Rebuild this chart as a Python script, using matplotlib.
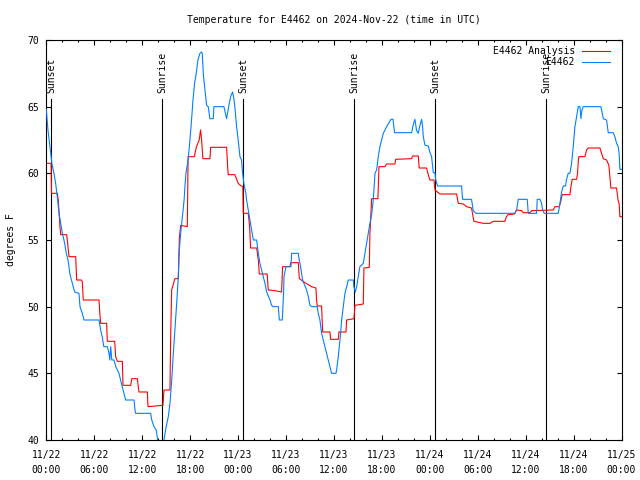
import pandas as pd
import matplotlib
matplotlib.use('Agg')
import matplotlib.pyplot as plt
import matplotlib.dates as mdates

plt.rcParams['font.family'] = 'DejaVu Sans Mono'
plt.rcParams['font.size'] = 7

start = pd.Timestamp('2024-11-22 00:00')
end = pd.Timestamp('2024-11-25 00:00')

# observed temperature (hours since 11/22 00:00 UTC, deg F)
obs_hours = [0.0, 0.2, 0.55, 0.7, 0.96, 1.17, 1.38, 1.59, 1.8, 2.01, 2.3, 2.5, 2.72, 2.97,
             3.26, 3.55, 4.09, 4.22, 4.5, 4.72, 6.6, 6.8, 7.0, 7.2, 7.64, 7.85, 7.95, 8.06,
             8.2, 8.47, 8.7, 9.1, 9.4, 9.72, 9.93, 10.98, 11.1, 11.18, 13.06, 13.2, 13.48,
             13.75, 13.94, 14.3, 14.73, 15.0, 15.27, 15.48, 15.7, 15.9, 16.1, 16.32, 16.5,
             16.65, 16.82, 17.07, 17.25, 17.36, 17.48, 17.75, 17.98, 18.15, 18.36, 18.56,
             18.77, 18.98, 19.23, 19.44, 19.52, 19.65, 19.86, 20.07, 20.27, 20.48, 20.9,
             20.98, 22.23, 22.57, 22.9, 23.07, 23.32, 23.48, 23.6, 23.82, 24.02, 24.24,
             24.44, 24.57, 24.73, 24.98, 25.07, 25.28, 25.49, 25.7, 25.91, 26.33, 26.54,
             26.74, 26.95, 27.16, 27.37, 27.58, 28.0, 28.2, 28.41, 29.04, 29.17, 29.54,
             29.62, 29.7, 29.75, 30.0, 30.62, 30.71, 31.54, 31.66, 31.83, 31.95, 32.08,
             32.58, 32.8, 33.0, 33.21, 33.92, 34.04, 34.25, 34.46, 34.67, 34.88, 35.1, 35.3,
             35.5, 35.71, 36.26, 36.34, 36.55, 36.76, 36.97, 37.17, 37.38, 37.6, 37.8,
             38.43, 38.5, 38.68, 38.85, 39.05, 39.25, 39.68, 39.89, 40.1, 40.3, 40.51,
             40.72, 40.93, 41.14, 41.35, 41.55, 41.76, 42.18, 42.6, 43.01, 43.14, 43.4,
             43.6, 45.73, 45.95, 46.14, 46.35, 46.56, 46.77, 46.98, 47.1, 47.19, 47.4,
             47.81, 48.0, 48.23, 48.44, 48.65, 48.75, 48.98, 51.98, 52.11, 53.23, 53.44,
             53.78, 58.66, 58.87, 59.08, 60.2, 60.33, 61.37, 61.45, 61.79, 62.0, 62.12,
             62.33, 64.08, 64.3, 64.5, 64.71, 65.0, 65.1, 65.33, 65.54, 65.75, 65.96,
             66.17, 66.38, 66.59, 66.8, 66.92, 67.05, 67.21, 69.42, 69.72, 70.13, 70.34,
             70.96, 71.17, 71.38, 71.59, 71.7, 71.8, 72.0]
obs_temp = [64.8, 63.3, 61.5, 60.75, 60.0, 59.25, 58.2, 57.0, 56.25, 55.5, 54.75, 54.0, 53.5, 52.4,
            51.75, 51.1, 51.0, 50.0, 49.5, 49.0, 49.0, 48.25, 47.75, 47.0, 47.0, 46.5, 46.0, 47.0,
            46.0, 46.0, 45.5, 45.0, 44.25, 43.5, 43.0, 43.0, 42.25, 42.0, 42.0, 41.5, 41.0,
            40.75, 40.0, 39.0, 40.0, 41.0, 41.75, 42.75, 44.5, 46.5, 48.25, 50.25, 52.0,
            54.25, 55.5, 57.0, 58.0, 59.1, 60.0, 61.0, 62.5, 63.75, 65.5, 66.75,
            67.5, 68.5, 69.0, 69.1, 69.0, 67.5, 66.25, 65.1, 65.0, 64.1, 64.1,
            65.0, 65.0, 64.1, 65.25, 65.75, 66.1, 65.6, 65.0, 63.5, 62.5, 61.25,
            61.0, 60.0, 59.25, 58.5, 58.0, 57.25, 56.5, 55.75, 55.0, 55.0, 54.0,
            53.25, 52.75, 52.25, 51.75, 51.1, 50.5, 50.1, 50.0, 50.0, 49.0, 49.0,
            50.0, 51.0, 52.25, 53.0, 53.0, 54.0, 54.0, 53.5, 53.0, 52.5, 52.0,
            51.25, 50.75, 50.1, 50.0, 50.0, 49.5, 49.0, 48.0, 47.5, 47.0, 46.5, 46.0,
            45.5, 45.0, 45.0, 45.25, 46.25, 47.5, 49.0, 50.0, 51.0, 51.5, 52.0,
            52.0, 51.5, 51.1, 51.5, 52.25, 53.0, 53.25, 54.0, 54.75, 55.5, 56.25,
            56.9, 58.0, 60.0, 60.25, 61.25, 62.0, 63.0, 63.5, 63.9, 64.05, 64.05,
            63.05, 63.05, 63.7, 64.05, 63.2, 63.0, 63.6, 64.05, 63.5, 62.75, 62.1,
            62.05, 61.6, 61.25, 60.05, 60.05, 59.5, 59.05, 59.05, 58.05, 58.05, 57.2,
            57.0, 57.0, 57.25, 58.05, 58.05, 57.0, 57.0, 58.05, 58.05, 57.75, 57.25,
            57.0, 57.0, 57.75, 58.6, 59.05, 59.05, 59.5, 60.0, 60.0, 60.75, 62.0,
            63.5, 64.25, 65.0, 65.0, 64.1, 64.75, 65.0, 65.0, 64.1, 64.0, 63.05,
            63.05, 62.75, 62.25, 62.0, 61.5, 60.3, 60.3]

# analysis temperature
ana_hours = [0.0, 0.6, 0.65, 1.38, 1.5, 1.6, 1.71, 1.8, 2.55, 2.63, 2.84, 3.68, 3.8, 4.38,
             4.5, 4.63, 6.6, 6.7, 6.8, 7.55, 7.64, 8.56, 8.68, 8.9, 9.52, 9.6, 10.56, 10.7,
             11.39, 11.6, 12.65, 12.73, 14.6, 14.73, 15.48, 15.56, 15.69, 16.1, 16.53,
             16.65, 16.82, 17.65, 17.75, 18.52, 18.8, 19.14, 19.31, 19.44, 19.6, 20.48,
             20.57, 22.57, 22.7, 22.77, 23.6, 23.8, 24.02, 24.3, 24.6, 24.65, 25.28, 25.45,
             25.57, 26.33, 26.54, 26.66, 27.65, 27.78, 28.62, 29.45, 29.58, 30.5, 30.6,
             31.54, 31.67, 32.38, 33.21, 33.75, 33.83, 33.92, 34.46, 34.59, 35.51, 35.59,
             36.55, 36.63, 37.51, 37.59, 38.51, 38.64, 39.68, 39.76, 40.43, 40.51, 40.6,
             40.72, 41.51, 41.64, 42.39, 42.6, 43.64, 43.73, 45.73, 45.85, 46.56, 46.68,
             47.6, 47.81, 48.02, 48.52, 48.65, 49.27, 51.36, 51.57, 52.2, 52.61, 53.23,
             53.52, 54.69, 55.53, 55.94, 57.4, 57.6, 57.82, 58.6, 58.87, 59.49, 59.7, 60.54,
             60.75, 63.46, 63.67, 64.21, 64.4, 64.58, 65.54, 65.67, 65.83, 66.38, 66.5,
             66.6, 66.67, 67.42, 67.63, 67.84, 69.3, 69.5, 69.72, 70.13, 70.42, 70.55,
             70.67, 71.38, 71.59, 71.7, 71.8, 72.0]
ana_temp = [60.75, 60.75, 58.5, 58.5, 58.0, 57.0, 56.0, 55.4, 55.4, 55.0, 53.75, 53.75, 52.0, 52.0,
            51.9, 50.5, 50.5, 49.5, 48.75, 48.75, 47.4, 47.4, 46.25, 45.9, 45.9, 44.1, 44.1, 44.6,
            44.6, 43.6, 43.6, 42.5, 42.6, 43.75, 43.75, 47.5, 51.25, 52.1, 52.1,
            55.1, 56.1, 56.0, 61.25, 61.25, 62.0, 62.5, 63.25, 62.5, 61.1, 61.1,
            61.95, 61.95, 60.5, 59.9, 59.9, 59.6, 59.25, 59.1, 59.0, 57.0, 57.0, 56.0,
            54.4, 54.4, 53.5, 52.45, 52.45, 51.25, 51.2, 51.1, 53.0, 53.0, 53.3,
            53.3, 52.1, 51.8, 51.5, 51.4, 50.5, 50.05, 50.05, 48.1, 48.1, 47.55,
            47.55, 48.1, 48.1, 49.0, 49.1, 50.1, 50.2, 52.9, 52.95, 55.5, 56.5,
            58.1, 58.1, 60.5, 60.5, 60.7, 60.7, 61.05, 61.1, 61.3, 61.3, 60.4,
            60.4, 59.9, 59.5, 59.5, 58.75, 58.45, 58.45, 57.75, 57.7, 57.5, 57.4,
            56.4, 56.25, 56.25, 56.4, 56.4, 56.75, 56.9, 56.95, 57.25, 57.2, 57.05, 57.05,
            57.2, 57.25, 57.5, 57.5, 57.9, 58.4, 58.4, 59.0, 59.55, 59.55, 60.0,
            61.0, 61.25, 61.25, 61.75, 61.9, 61.9, 61.5, 61.1, 61.0, 60.6, 59.75,
            58.9, 58.9, 57.9, 57.75, 56.75, 56.75]

sunset_hours = [0.63, 24.66, 48.69]
sunrise_hours = [14.52, 38.55, 62.58]

obs_t = start + pd.to_timedelta(obs_hours, unit='h')
ana_t = start + pd.to_timedelta(ana_hours, unit='h')

fig = plt.figure(figsize=(6.4, 4.8), dpi=100)
ax = fig.add_axes([46.3 / 640, 40 / 480, 575.2 / 640, 400 / 480])

# sunrise / sunset markers
for name, hrs in [('Sunset', sunset_hours), ('Sunrise', sunrise_hours)]:
    for h in hrs:
        t = start + pd.Timedelta(hours=h)
        ax.plot([t, t], [40, 65.55], color='black', lw=0.8, zorder=1)
        ax.text(t, 66.05, name, rotation=90, ha='center', va='bottom', fontsize=7)

ax.plot(ana_t, ana_temp, color='#ff0000', lw=0.8, label='E4462 Analysis', zorder=2)
ax.plot(obs_t, obs_temp, color='#0080ff', lw=0.8, label='E4462', zorder=3)

ax.set_xlim(start, end)
ax.set_ylim(40, 70)
ax.set_yticks([40, 45, 50, 55, 60, 65, 70])
ax.xaxis.set_major_locator(mdates.HourLocator(byhour=range(0, 24, 6)))
ax.xaxis.set_minor_locator(mdates.HourLocator(byhour=range(0, 24, 2)))
ax.xaxis.set_major_formatter(mdates.DateFormatter('%m/%d\n%H:%M'))
ax.tick_params(which='both', direction='in', top=True, right=True, width=0.8)
ax.tick_params(which='major', length=3.3, pad=5)
ax.tick_params(which='minor', length=1.7)
ax.tick_params(axis='x', which='major', pad=7.5)
for lbl in ax.get_xticklabels():
    lbl.set_linespacing(1.55)
for sp in ax.spines.values():
    sp.set_linewidth(0.8)

ax.set_title('Temperature for E4462 on 2024-Nov-22 (time in UTC)', fontsize=7, pad=12)
ax.set_ylabel('degrees F', fontsize=7)
ax.yaxis.set_label_coords(-0.053, 0.5)

ax.legend(loc='upper right', bbox_to_anchor=(0.98, 0.984), frameon=False,
          markerfirst=False, handlelength=2.9, handletextpad=0.7,
          borderaxespad=0, borderpad=0, labelspacing=0.1, fontsize=7)

plt.savefig('out.png', dpi=100)
